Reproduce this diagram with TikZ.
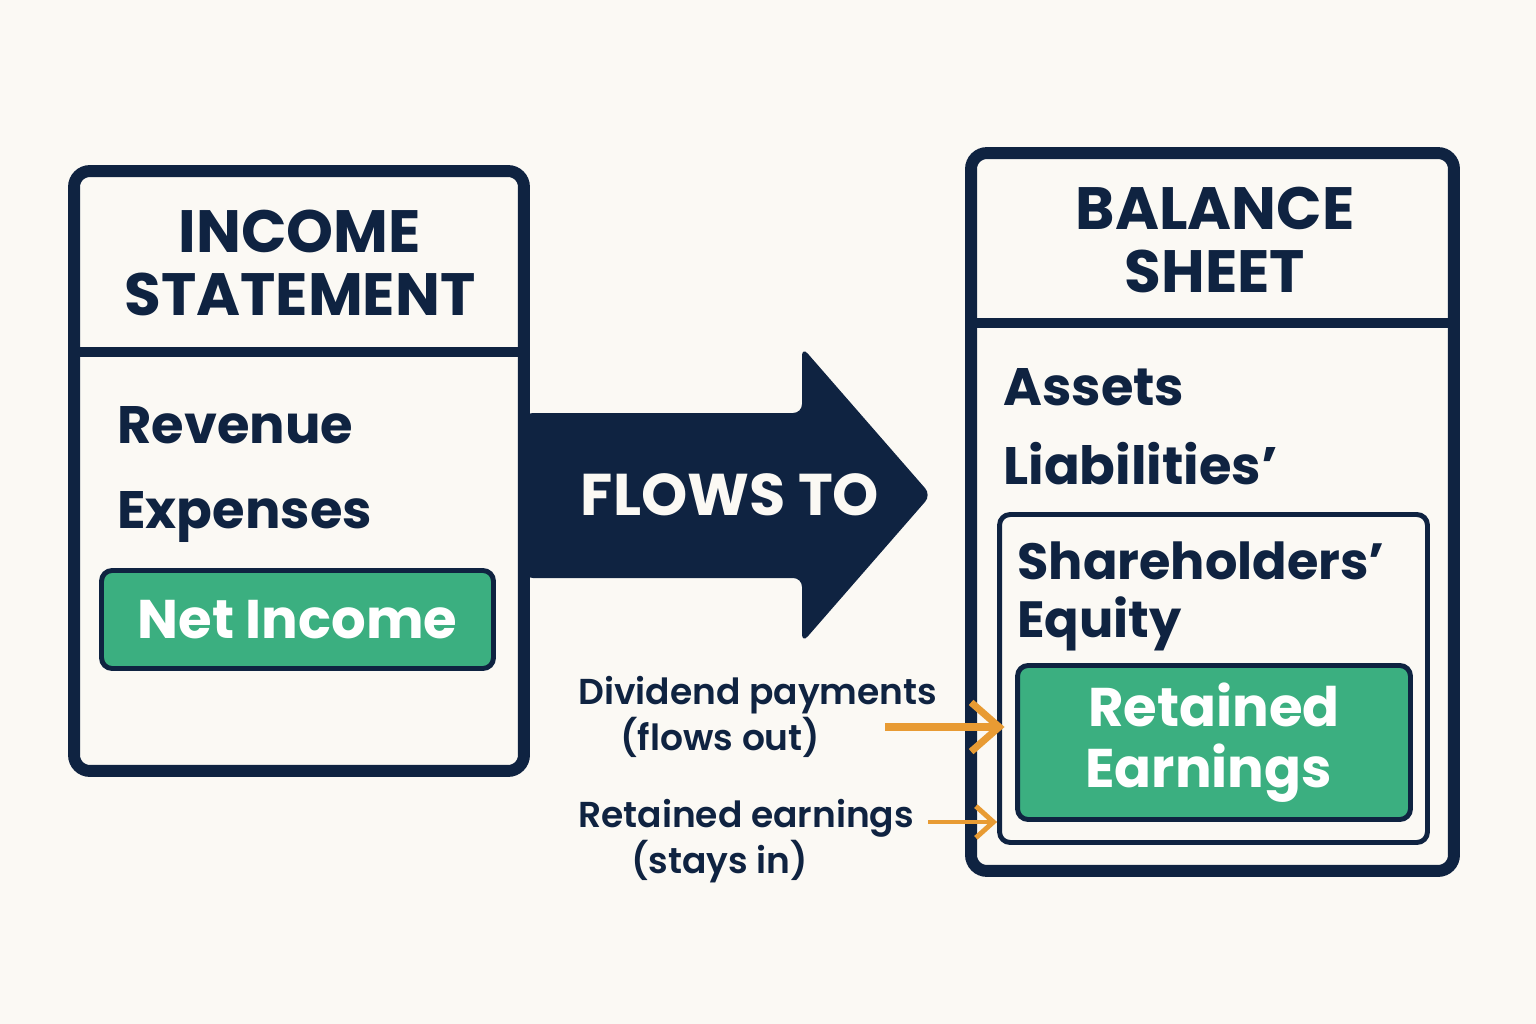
\documentclass[tikz,border=0pt]{standalone}
\usepackage{fontspec}
\setmainfont{Poppins}[UprightFont=* Medium, BoldFont=* Bold]
\newfontfamily\notefont{Poppins}[UprightFont=* SemiBold]
\usetikzlibrary{arrows.meta,positioning}
\definecolor{bgcream}{HTML}{FBF9F4}
\definecolor{navy}{HTML}{0F2341}
\definecolor{money}{HTML}{3BAF80}
\definecolor{flowor}{HTML}{E89B33}

\tikzset{
  sheet/.style={draw=navy, line width=6.8pt, rounded corners=9pt, fill=bgcream, inner sep=0pt},
  heading/.style={font=\fontsize{34}{35.5}\selectfont\bfseries, text=navy, align=center},
  item/.style={font=\fontsize{30}{33}\selectfont\bfseries, text=navy, inner sep=0pt, anchor=base west},
  greenbox/.style={draw=navy, line width=2.8pt, fill=money, rounded corners=6pt, text=white, font=\fontsize{31}{35}\selectfont\bfseries, align=center, inner sep=0pt},
  note/.style={font=\notefont\fontsize{20.5}{26}\selectfont, text=navy, align=left, inner sep=0pt},
  outflow/.style={draw=flowor, line width=4pt, -{Straight Barb[length=16pt, width=28pt]}}
}

\begin{document}
\begin{tikzpicture}[x=0.02cm, y=-0.02cm]
\fill[bgcream] (0,0) rectangle (1536,1024);
\useasboundingbox (0,0) rectangle (1536,1024);

% big arrow
\fill[navy, rounded corners=5pt] (524,413) -- (802,413) -- (802,347) -- (931,495) -- (802,643) -- (802,578) -- (524,578) -- cycle;
\node (flows) [font=\fontsize{33.5}{36}\selectfont\bfseries, text=bgcream] at (730,495) {FLOWS TO};

% income statement
\node (inc) [sheet, minimum width=9cm, minimum height=12cm] at (299,471) {};
\draw[navy, line width=5.7pt] (inc.west |- 0,352) -- (inc.east |- 0,352);
\node (inctitle) [heading] at (300,263) {INCOME\\STATEMENT};
\node (rev) [item] at (117,443) {Revenue};
\node (exp) [item] at (117,528) {Expenses};
\node (net) [greenbox, minimum width=7.84cm, minimum height=1.96cm] at (297.5,619.5) {Net Income};

% balance sheet
\node (bal) [sheet, minimum width=9.66cm, minimum height=14.36cm] at (1212.5,512) {};
\draw[navy, line width=5.7pt] (bal.west |- 0,323) -- (bal.east |- 0,323);
\node (baltitle) [heading] at (1215,240) {BALANCE\\SHEET};
\node (assets) [item] at (1003,405) {Assets};
\node (liab) [item] at (1003,484) {Liabilities’};
\node (eq) [draw=navy, line width=2.8pt, rounded corners=6pt, minimum width=8.56cm, minimum height=6.56cm, inner sep=0pt] at (1213.5,678.5) {};
\node (share) [item, font=\fontsize{29}{33}\selectfont\bfseries] at (1017,579) {Shareholders’};
\node (equity) [item, font=\fontsize{29}{33}\selectfont\bfseries] at (1017,637) {Equity};
\node (ret) [greenbox, minimum width=7.86cm, minimum height=3.08cm] at (1214,742.5) {Retained\\Earnings\hspace*{6pt}};

% notes
\node (divnote) [note, anchor=west] at (578,717) {Dividend payments\\\hspace*{24pt}(flows out)};
\node (keepnote) [note, anchor=west] at (578,841) {Retained earnings\\\hspace*{30pt}(stays in)};
\coordinate (divfrom) at (885,727);
\coordinate (keepfrom) at (928,822);

% Arrows
\draw[outflow, shorten >=6pt] (divfrom) -- (divfrom -| ret.west);
\draw[outflow, line width=2.8pt, -{Straight Barb[length=10pt, width=18pt]}] (keepfrom) -- (keepfrom -| eq.west);
\end{tikzpicture}
\end{document}
